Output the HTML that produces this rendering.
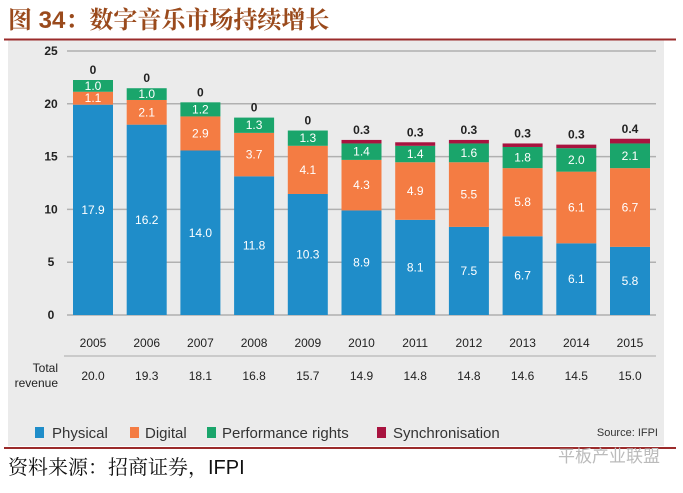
<!DOCTYPE html>
<html><head><meta charset="utf-8"><style>
body{margin:0;background:#fff;width:683px;height:488px;overflow:hidden;font-family:"Liberation Sans","Noto Sans CJK SC",sans-serif}
</style></head><body>
<svg width="683" height="488" xmlns="http://www.w3.org/2000/svg" font-family="Liberation Sans, Noto Sans CJK SC, sans-serif">
<text x="8" y="28" font-size="24" font-weight="bold" fill="#9a4a1c" font-family="Liberation Sans, Noto Serif CJK SC, serif">图 34：数字音乐市场持续增长</text>
<rect x="8" y="40" width="656" height="406" fill="#ebebeb"/>
<line x1="4" y1="39.5" x2="676" y2="39.5" stroke="#9b2b2b" stroke-width="2"/>
<line x1="4" y1="448" x2="676" y2="448" stroke="#9b2b2b" stroke-width="2"/>
<g id="grid"></g><g id="bars"></g><g id="table"></g>
<line x1="64" y1="356" x2="656" y2="356" stroke="#aaa" stroke-width="1"/>
<text x="58" y="372" font-size="12" text-anchor="end" fill="#222">Total</text>
<text x="58" y="387" font-size="12" text-anchor="end" fill="#222">revenue</text>
<g font-size="15" fill="#333">
<rect x="35" y="427" width="9" height="11" fill="#1f8dc9"/><text x="52" y="438">Physical</text>
<rect x="130" y="427" width="9" height="11" fill="#f47c43"/><text x="145" y="438">Digital</text>
<rect x="207" y="427" width="9" height="11" fill="#1aa56b"/><text x="222" y="438">Performance rights</text>
<rect x="377" y="427" width="9" height="11" fill="#a8133f"/><text x="393" y="438">Synchronisation</text>
</g>
<text x="658" y="436" font-size="11" text-anchor="end" fill="#333">Source: IFPI</text>
<text x="8" y="474" font-size="20" fill="#111" font-family="Liberation Sans, Noto Serif CJK SC, serif">资料来源：招商证券，IFPI</text>
<text x="660" y="462" font-size="17" text-anchor="end" fill="#bbb">平板产业联盟</text>
</svg>
<script>
const years=["2005","2006","2007","2008","2009","2010","2011","2012","2013","2014","2015"];
const physical=[17.9,16.2,14.0,11.8,10.3,8.9,8.1,7.5,6.7,6.1,5.8];
const digital=[1.1,2.1,2.9,3.7,4.1,4.3,4.9,5.5,5.8,6.1,6.7];
const performance=[1.0,1.0,1.2,1.3,1.3,1.4,1.4,1.6,1.8,2.0,2.1];
const sync=[0,0,0,0,0,0.3,0.3,0.3,0.3,0.3,0.4];
const totals=["20.0","19.3","18.1","16.8","15.7","14.9","14.8","14.8","14.6","14.5","15.0"];
const yTicks=[0,5,10,15,20,25];
const NS="http://www.w3.org/2000/svg";
// axis gridlines scale
const y=v=>315-v*10.56;
// bar scale as drawn in the source graphic (bars are stretched relative to gridlines)
const yb=v=>315-v*11.75;
const x=i=>93+i*53.7;
const bw=40;
function mk(t,a,p){const e=document.createElementNS(NS,t);for(const k in a)e.setAttribute(k,a[k]);p.appendChild(e);return e;}
const grid=document.getElementById('grid'),bars=document.getElementById('bars'),tbl=document.getElementById('table');
yTicks.forEach(t=>{
 const l=mk('line',{x1:67,x2:656,y1:y(t),y2:y(t),stroke:'#b0b0b0','stroke-width':1.5},grid);
 
 
 const tx=mk('text',{x:51,y:y(t)+4,'font-size':12,'font-weight':'bold','text-anchor':'middle',fill:'#222'},grid);
 tx.textContent=t;
 
 
});
const series=[[physical,'#1f8dc9','physical'],[digital,'#f47c43','digital'],[performance,'#1aa56b','performance'],[sync,'#a8133f','sync']];
years.forEach((yr,i)=>{
 let base=0;
 series.forEach(([arr,c,n])=>{
  const v=arr[i];
  if(v>0){
   const r=mk('rect',{x:x(i)-bw/2,y:yb(base+v),width:bw,height:yb(base)-yb(base+v),fill:c},bars);
   
   
   if(n!=='sync'){
    const t=mk('text',{x:x(i),y:(yb(base)+yb(base+v))/2+4,'font-size':12,'text-anchor':'middle',fill:'#fff'},bars);
    t.textContent=v.toFixed(1);
    
    
   }
  }
  base+=v;
 });
 const st=mk('text',{x:x(i),y:yb(base)-6,'font-size':12,'text-anchor':'middle',fill:'#222','font-weight':'bold'},bars);
 st.textContent=sync[i]===0?'0':sync[i].toFixed(1);
 
 
 const yl=mk('text',{x:x(i),y:347,'font-size':12,'text-anchor':'middle',fill:'#222'},tbl);
 yl.textContent=yr;
 
 
 const tt=mk('text',{x:x(i),y:380,'font-size':12,'text-anchor':'middle',fill:'#222'},tbl);
 tt.textContent=totals[i];
 
 
});
</script>
</body></html>
